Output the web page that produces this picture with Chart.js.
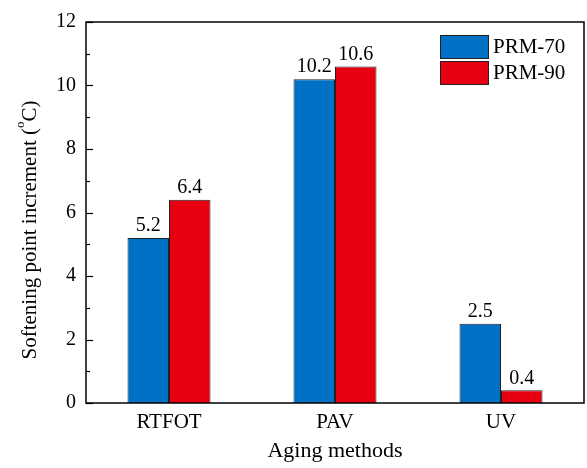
<!DOCTYPE html>
<html>
<head>
<meta charset="utf-8">
<script src="https://cdn.jsdelivr.net/npm/chart.js@4/dist/chart.umd.min.js"></script>
<style>
  html, body { margin: 0; padding: 0; background: #fff; }
  #wrap { width: 587px; height: 468px; }
</style>
</head>
<body>
<div id="wrap"><canvas id="chart" width="587" height="468"></canvas></div>
<script>
const categories = ["RTFOT", "PAV", "UV"];
const seriesNames = ["PRM-70", "PRM-90"];
const prm70 = [5.2, 10.2, 2.5];
const prm90 = [6.4, 10.6, 0.4];
const seriesColors = ["#0071C5", "#E60012"];
const FONT = "'Liberation Serif', 'Times New Roman', serif";

// inward ticks, frame, value labels, legend and the y title with superscript o
const decor = {
  id: "decor",
  afterDatasetsDraw(chart) {
    const c = chart.ctx;
    const a = chart.chartArea;
    const ys = chart.scales.y;
    c.save();
    // frame
    c.strokeStyle = "#000";
    c.lineWidth = 1.5;
    c.strokeRect(a.left, a.top, a.right - a.left, a.bottom - a.top);
    // y ticks pointing in
    c.lineWidth = 1.2;
    for (let v = 0; v <= 12; v++) {
      const y = Math.round(ys.getPixelForValue(v)) + 0.5;
      const len = v % 2 === 0 ? 7 : 4;
      c.beginPath();
      c.moveTo(a.left, y);
      c.lineTo(a.left + len, y);
      c.stroke();
    }
    // value labels
    c.fillStyle = "#000";
    c.font = "20px " + FONT;
    c.textAlign = "center";
    c.textBaseline = "bottom";
    chart.data.datasets.forEach((ds, i) => {
      chart.getDatasetMeta(i).data.forEach((bar, j) => {
        c.fillText(ds.data[j].toFixed(1), bar.x, bar.y - 2);
      });
    });
    // legend
    c.font = "21px " + FONT;
    c.textAlign = "left";
    c.textBaseline = "middle";
    seriesNames.forEach((name, i) => {
      const y0 = 35 + i * 26;
      c.fillStyle = seriesColors[i];
      c.fillRect(440, y0, 48, 23);
      c.strokeStyle = "#222";
      c.lineWidth = 1;
      c.strokeRect(440.5, y0 + 0.5, 48, 23);
      c.fillStyle = "#000";
      c.fillText(name, 493, y0 + 12);
    });
    // y title
    c.translate(30, 230);
    c.rotate(-Math.PI / 2);
    const main = "Softening point increment (";
    c.font = "21px " + FONT;
    const w1 = c.measureText(main).width;
    c.font = "13px " + FONT;
    const w2 = c.measureText("o").width;
    c.font = "21px " + FONT;
    const w3 = c.measureText("C)").width;
    let x = -(w1 + w2 + w3) / 2;
    c.textAlign = "left";
    c.textBaseline = "middle";
    c.fillText(main, x, 0);
    x += w1;
    c.font = "13px " + FONT;
    c.fillText("o", x, -9);
    x += w2;
    c.font = "21px " + FONT;
    c.fillText("C)", x, 0);
    c.restore();
  }
};

new Chart(document.getElementById("chart").getContext("2d"), {
  type: "bar",
  data: {
    labels: categories,
    datasets: [
      { label: seriesNames[0], data: prm70, backgroundColor: seriesColors[0], borderColor: "#222", borderWidth: 1 },
      { label: seriesNames[1], data: prm90, backgroundColor: seriesColors[1], borderColor: "#222", borderWidth: 1 }
    ]
  },
  options: {
    responsive: false,
    animation: false,
    maintainAspectRatio: false,
    layout: { padding: { top: 22, right: 3, left: 0, bottom: 0 } },
    plugins: { legend: { display: false }, tooltip: { enabled: false } },
    datasets: { bar: { categoryPercentage: 0.5, barPercentage: 1 } },
    scales: {
      x: {
        offset: true,
        grid: { display: false, drawTicks: false },
        border: { display: false },
        ticks: { color: "#000", font: { family: FONT, size: 21 }, padding: 7 },
        title: { display: true, text: "Aging methods", color: "#000", font: { family: FONT, size: 22 }, padding: { top: 8 } },
        afterFit(s) { s.height = 65; }
      },
      y: {
        min: 0,
        max: 12,
        grid: { display: false, drawTicks: false },
        border: { display: false },
        ticks: {
          stepSize: 1,
          autoSkip: false,
          color: "#000",
          font: { family: FONT, size: 20 },
          padding: 10,
          callback: (v) => (v % 2 === 0 ? v : "")
        },
        afterFit(s) { s.width = 86; }
      }
    }
  },
  plugins: [decor]
});
</script>
</body>
</html>
